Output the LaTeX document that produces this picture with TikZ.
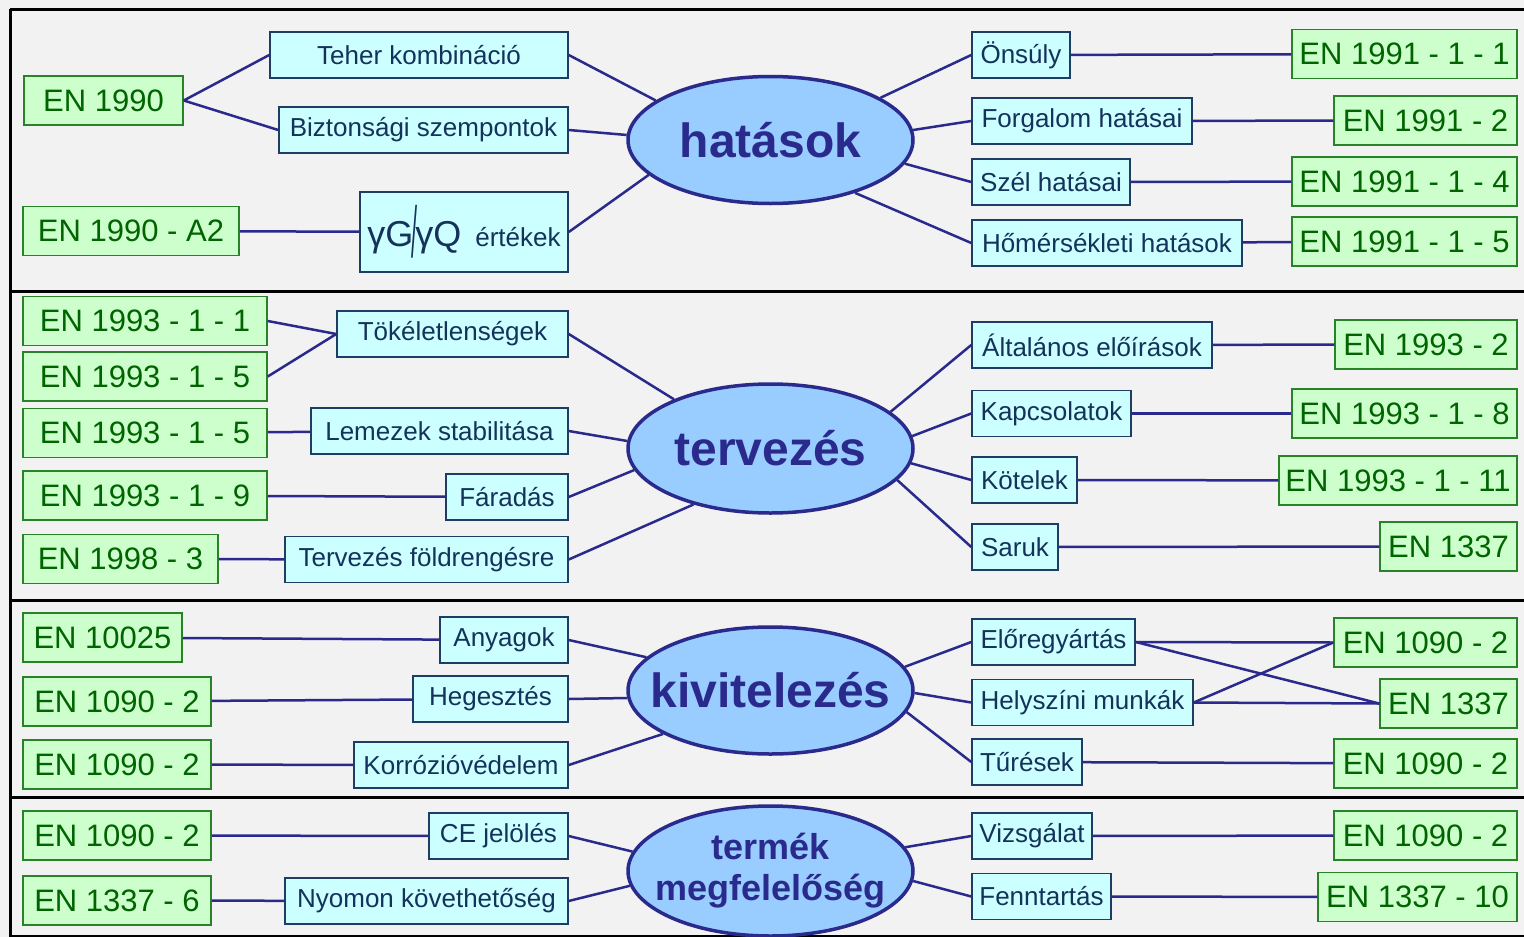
\documentclass[tikz,border=0pt]{standalone}
\usepackage{fontspec}
\setmainfont{Liberation Sans}
\usetikzlibrary{shapes.geometric}

\definecolor{hatter}{RGB}{242,242,242}
\definecolor{normzold}{RGB}{204,255,204}
\definecolor{normkeret}{RGB}{40,130,40}
\definecolor{normbetu}{RGB}{0,100,0}
\definecolor{temakek}{RGB}{204,255,255}
\definecolor{temakeret}{RGB}{31,60,100}
\definecolor{temabetu}{RGB}{20,50,90}
\definecolor{fokek}{RGB}{153,204,255}
\definecolor{vonal}{RGB}{42,42,140}

\tikzset{
  norm/.style={draw=normkeret, fill=normzold, text=normbetu, line width=1.5pt,
    inner sep=1pt, minimum height=49, font=\fontsize{31}{36}\selectfont},
  tema/.style={draw=temakeret, fill=temakek, text=temabetu, line width=1.5pt,
    inner sep=1pt, minimum height=46, font=\fontsize{26}{30}\selectfont},
  fo/.style={ellipse, draw=vonal, fill=fokek, text=vonal, line width=3.5pt,
    inner xsep=-40pt, inner ysep=-20pt, minimum width=285, minimum height=127,
    align=center, font=\bfseries\fontsize{48}{52}\selectfont},
  kapocs/.style={draw=vonal, line width=2.5pt},
  keret/.style={draw=black, line width=3pt}
}

\begin{document}
\begin{tikzpicture}[x=1pt,y=-1pt]
\useasboundingbox (0,0) rectangle (1524,937);
\fill[hatter] (0,0) rectangle (1524,937);
\draw[keret] (10,9) -- (1540,9);
\draw[keret] (10,9) -- (10,940);
\draw[keret] (10,291) -- (1540,291);
\draw[keret] (10,600) -- (1540,600);
\draw[keret] (10,797) -- (1540,797);
\draw[keret] (10,936) -- (1540,936);

% hatasok
\node[fo] (hat) at (770.5,140) {hatások};
\node[norm, minimum width=159] (en1990) at (103.5,100.5) {EN 1990};
\node[tema, minimum width=298] (teher) at (419,55) {Teher kombináció};
\node[tema, minimum width=289] (bizt) at (423.5,130) {Biztonsági szempontok};
\node[norm, minimum width=216] (en1990a2) at (131,231) {EN 1990 - A2};
\node[tema, minimum width=208, minimum height=80] (gamma) at (464,232)
  {{\fontsize{36}{40}\selectfont γG\hspace{-2pt}\raisebox{-.3em}{\scalebox{.6}[2]{/}}\hspace{-2pt}γQ}\hspace{14pt}értékek};
\node[tema, minimum width=98] (onsuly) at (1021,55) {Önsúly};
\node[tema, minimum width=220] (forg) at (1082,121) {Forgalom hatásai};
\node[tema, minimum width=158] (szel) at (1051,182) {Szél hatásai};
\node[tema, minimum width=270] (hom) at (1107,243) {Hőmérsékleti hatások};
\node[norm, minimum width=225] (en1991a) at (1404.5,54) {EN 1991 - 1 - 1};
\node[norm, minimum width=183] (en1991b) at (1425.5,120.5) {EN 1991 - 2};
\node[norm, minimum width=225] (en1991c) at (1404.5,181.5) {EN 1991 - 1 - 4};
\node[norm, minimum width=225] (en1991d) at (1404.5,241.5) {EN 1991 - 1 - 5};
\draw[kapocs] (en1990.east) -- (teher.west);
\draw[kapocs] (en1990.east) -- (bizt.west);
\draw[kapocs] (en1990a2) -- (gamma);
\draw[kapocs] (teher.east) -- (hat.161);
\draw[kapocs] (bizt.east) -- (hat.178);
\draw[kapocs] (gamma.east) -- (hat.196);
\draw[kapocs] (hat.21) -- (onsuly.west);
\draw[kapocs] (hat.4) -- (forg.west);
\draw[kapocs] (hat.350) -- (szel.west);
\draw[kapocs] (hat.328) -- (hom.west);
\draw[kapocs] (onsuly) -- (en1991a);
\draw[kapocs] (forg) -- (en1991b);
\draw[kapocs] (szel) -- (en1991c);
\draw[kapocs] (hom) -- (en1991d);

% tervezes
\node[fo, minimum height=129] (ter) at (770.5,448.5) {tervezés};
\node[norm, minimum width=244] (en1993a) at (145,321) {EN 1993 - 1 - 1};
\node[norm, minimum width=244] (en1993b) at (145,376.5) {EN 1993 - 1 - 5};
\node[tema, minimum width=231] (tok) at (452.5,334) {Tökéletlenségek};
\node[norm, minimum width=244] (en1993c) at (145,433) {EN 1993 - 1 - 5};
\node[tema, minimum width=257] (lem) at (439.5,431) {Lemezek stabilitása};
\node[norm, minimum width=244] (en1993d) at (145,495.5) {EN 1993 - 1 - 9};
\node[tema, minimum width=122] (far) at (507,497) {Fáradás};
\node[norm, minimum width=195] (en1998) at (120.5,559) {EN 1998 - 3};
\node[tema, minimum width=283] (foldr) at (426.5,559.5) {Tervezés földrengésre};
\node[tema, minimum width=240] (alt) at (1092,345) {Általános előírások};
\node[norm, minimum width=182] (en1993e) at (1426,344.5) {EN 1993 - 2};
\node[tema, minimum width=159] (kapcs) at (1051.5,413.5) {Kapcsolatok};
\node[norm, minimum width=225] (en1993f) at (1404.5,413.5) {EN 1993 - 1 - 8};
\node[tema, minimum width=105] (kot) at (1024.5,480) {Kötelek};
\node[norm, minimum width=238] (en1993g) at (1398,480.5) {EN 1993 - 1 - 11};
\node[tema, minimum width=86] (saruk) at (1015,547) {Saruk};
\node[norm, minimum width=137] (en1337a) at (1448.5,546.5) {EN 1337};
\draw[kapocs] (en1993a.east) -- (tok.west);
\draw[kapocs] (en1993b.east) -- (tok.west);
\draw[kapocs] (en1993c) -- (lem);
\draw[kapocs] (en1993d) -- (far);
\draw[kapocs] (en1998) -- (foldr);
\draw[kapocs] (tok.east) -- (ter.153);
\draw[kapocs] (lem.east) -- (ter.177);
\draw[kapocs] (far.east) -- (ter.189);
\draw[kapocs] (foldr.east) -- (ter.216);
\draw[kapocs] (ter.17) -- (alt.west);
\draw[kapocs] (ter.5) -- (kapcs.west);
\draw[kapocs] (ter.354) -- (kot.west);
\draw[kapocs] (ter.346) -- (saruk.west);
\draw[kapocs] (alt) -- (en1993e);
\draw[kapocs] (kapcs) -- (en1993f);
\draw[kapocs] (kot) -- (en1993g);
\draw[kapocs] (saruk) -- (en1337a);

% kivitelezes
\node[fo] (kiv) at (770.5,690.5) {kivitelezés};
\node[norm, minimum width=159] (en10025) at (102.5,637.5) {EN 10025};
\node[tema, minimum width=128] (anyag) at (504,640) {Anyagok};
\node[norm, minimum width=188] (en1090a) at (117,701.5) {EN 1090 - 2};
\node[tema, minimum width=155] (heg) at (490.5,699) {Hegesztés};
\node[norm, minimum width=188] (en1090b) at (117,764.5) {EN 1090 - 2};
\node[tema, minimum width=214] (korr) at (461,765) {Korrózióvédelem};
\node[tema, minimum width=163] (elore) at (1053.5,642) {Előregyártás};
\node[tema, minimum width=221] (helysz) at (1082.5,702.5) {Helyszíni munkák};
\node[tema, minimum width=110] (tures) at (1027,762) {Tűrések};
\node[norm, minimum width=183] (en1090c) at (1425.5,642.5) {EN 1090 - 2};
\node[norm, minimum width=137] (en1337b) at (1448.5,703.5) {EN 1337};
\node[norm, minimum width=183] (en1090d) at (1425.5,763.5) {EN 1090 - 2};
\draw[kapocs] (en10025) -- (anyag);
\draw[kapocs] (en1090a) -- (heg);
\draw[kapocs] (en1090b) -- (korr);
\draw[kapocs] (anyag.east) -- (kiv.165);
\draw[kapocs] (heg.east) -- (kiv.183);
\draw[kapocs] (korr.east) -- (kiv.202);
\draw[kapocs] (kiv.10) -- (elore.west);
\draw[kapocs] (kiv.359) -- (helysz.west);
\draw[kapocs] (kiv.351) -- (tures.west);
\draw[kapocs] (elore.east) -- (en1090c.west);
\draw[kapocs] (elore.east) -- (en1337b.west);
\draw[kapocs] (helysz.east) -- (en1090c.west);
\draw[kapocs] (helysz.east) -- (en1337b.west);
\draw[kapocs] (tures) -- (en1090d);

% termek megfeleloseg
\node[fo, minimum height=130, font=\bfseries\fontsize{36}{41}\selectfont] (term) at (770.5,871) {termék\\megfelelőség};
\node[norm, minimum width=188] (en1090e) at (117,835.5) {EN 1090 - 2};
\node[tema, minimum width=139] (ce) at (498.5,836) {CE jelölés};
\node[norm, minimum width=188] (en1337c) at (117,900.5) {EN 1337 - 6};
\node[tema, minimum width=283] (nyom) at (426.5,901) {Nyomon követhetőség};
\node[tema, minimum width=120] (vizs) at (1032,836) {Vizsgálat};
\node[tema, minimum width=139] (fennt) at (1041.5,896.5) {Fenntartás};
\node[norm, minimum width=183] (en1090f) at (1425.5,835.5) {EN 1090 - 2};
\node[norm, minimum width=199] (en1337d) at (1417.5,897) {EN 1337 - 10};
\draw[kapocs] (en1090e) -- (ce);
\draw[kapocs] (en1337c) -- (nyom);
\draw[kapocs] (ce.east) -- (term.172);
\draw[kapocs] (nyom.east) -- (term.186);
\draw[kapocs] (term.10) -- (vizs.west);
\draw[kapocs] (term.356) -- (fennt.west);
\draw[kapocs] (vizs) -- (en1090f);
\draw[kapocs] (fennt) -- (en1337d);
\end{tikzpicture}
\end{document}
